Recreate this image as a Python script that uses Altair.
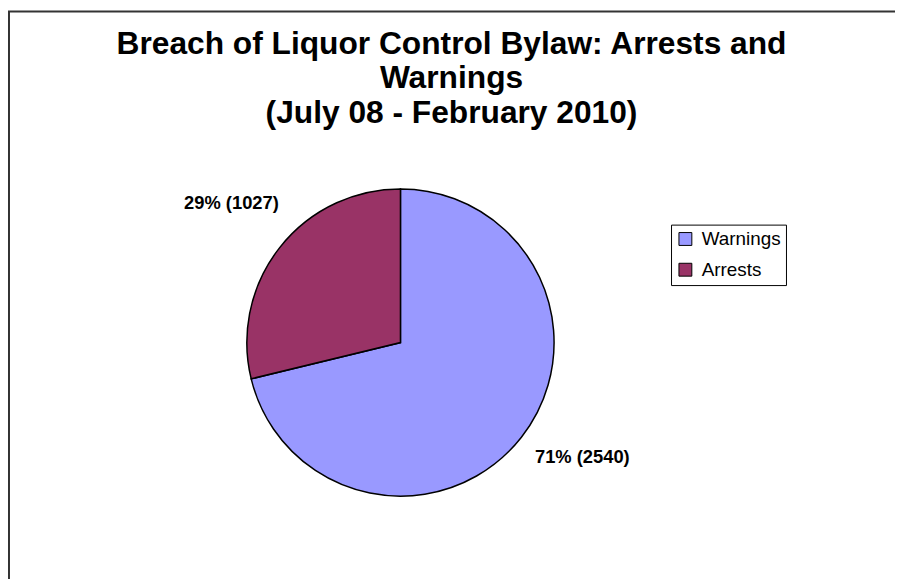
import altair as alt
import pandas as pd

categories = ["Warnings", "Arrests"]
values = [2540, 1027]
labels = ["71% (2540)", "29% (1027)"]
colors = ["#9999FF", "#993366"]
title_lines = ["Breach of Liquor Control Bylaw: Arrests and", "Warnings", "(July 08 - February 2010)"]

df = pd.DataFrame({"idx": [0, 1], "category": categories, "value": values, "label": labels})

W, H = 895, 571
CX, CY, R = 396, 335, 155

base = alt.Chart(df).encode(
    theta=alt.Theta("value:Q", stack=True),
    order=alt.Order("idx:Q"),
)

pie = base.mark_arc(outerRadius=R, stroke="black", strokeWidth=1.5).encode(
    x=alt.value(CX), y=alt.value(CY),
    color=alt.Color("category:N", sort=categories,
                    scale=alt.Scale(domain=categories, range=colors),
                    legend=alt.Legend(title=None, orient="none", legendX=669, legendY=216,
                                      strokeColor="black", fillColor="white", padding=5,
                                      symbolType="square", symbolSize=169,
                                      symbolStrokeColor="black", symbolStrokeWidth=1,
                                      symbolOpacity=1, labelFontSize=19, labelFont="Liberation Sans",
                                      labelColor="black", rowPadding=11, labelOffset=7,
                                      cornerRadius=0)),
)

label_style = dict(radius=222, font="Liberation Sans", fontSize=18.5, fontWeight="bold", color="black")

text_arrests = base.mark_text(dx=4, dy=-4, **label_style).encode(
    x=alt.value(CX), y=alt.value(CY), text="label:N",
    opacity=alt.condition(alt.datum.category == "Arrests", alt.value(1), alt.value(0)))

text_warnings = base.mark_text(dx=9, dy=-22, **label_style).encode(
    x=alt.value(CX), y=alt.value(CY), text="label:N",
    opacity=alt.condition(alt.datum.category == "Warnings", alt.value(1), alt.value(0)))

border = alt.Chart(pd.DataFrame({"a": [0]})).mark_rect(
    fill=None, stroke="#333333", strokeWidth=2).encode(
    x=alt.value(1), y=alt.value(1), x2=alt.value(2000), y2=alt.value(2000))

chart = alt.layer(border, pie, text_arrests, text_warnings).properties(
    width=W, height=H,
    autosize=alt.AutoSizeParams(type="none"),
    padding=0,
    title=alt.TitleParams(text=title_lines, fontSize=32, font="Liberation Sans", fontWeight="bold",
                          anchor="middle", frame="group", baseline="top", lineHeight=34.5,
                          offset=-120, color="black"),
).configure_view(stroke=None)

chart.save("out.html", embed_options={"renderer": "svg", "actions": False})
